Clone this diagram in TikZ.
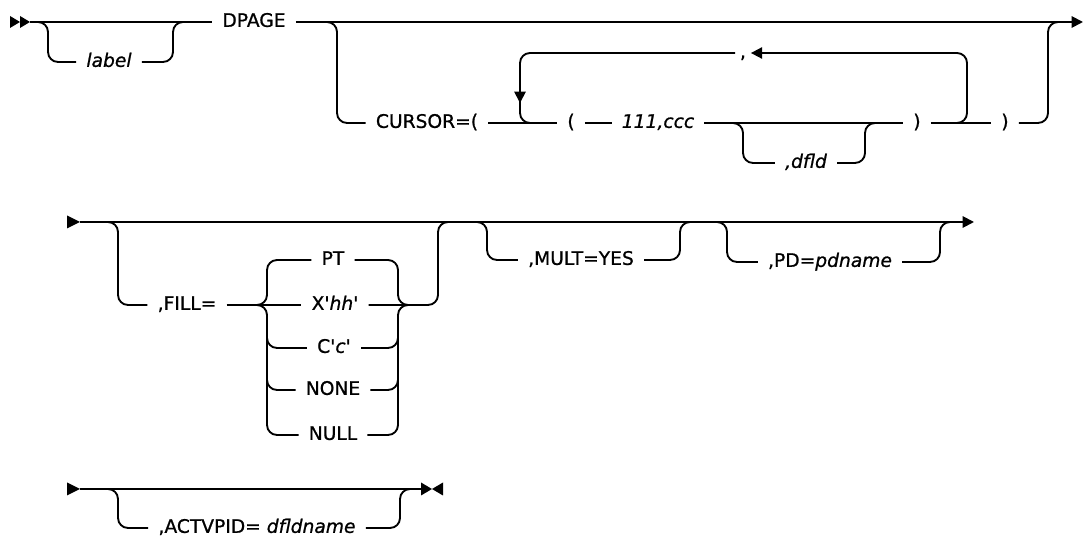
\documentclass[tikz,border=0pt]{standalone}
\usepackage{fontspec}
\setmainfont{DejaVu Sans}[FakeBold=0.9]
\usetikzlibrary{arrows.meta}
\newcommand{\sq}{\textquotesingle}

\begin{document}
\begin{tikzpicture}[
  x=0.75pt, y=-0.75pt, line width=1.4pt,
  kw/.style  ={inner xsep=7pt, inner ysep=0pt, text height=0.73em, text depth=0pt,
               font=\fontsize{14}{16}\selectfont},
  var/.style ={kw, font=\fontsize{14}{16}\selectfont\itshape},
  rail/.style={rounded corners=7.5pt},
  arr/.style ={-{Triangle[length=8.5pt,width=8.5pt]}},
]

\def\ya{22}\def\yb{222}\def\yc{489}
\useasboundingbox (0,0) rectangle (1083,538);

% ----- row 1: label, DPAGE, CURSOR --------------------------------------
\fill (10,\ya-6) -- (20,\ya) -- (10,\ya+6) -- cycle;
\fill (20,\ya-6) -- (30,\ya) -- (20,\ya+6) -- cycle;
\coordinate (s1) at (30,\ya);
\coordinate (e1) at (1083,\ya);
\node[kw]  (dpage) at (254,\ya) {DPAGE};
\node[var] (lbl)   at (109,62)  {label};
\draw (s1) -- (dpage.west);
\draw[arr] (dpage.east) -- (e1);
\draw[rail] (36,\ya) -- (48,\ya) -- (48,62) -- (lbl.west);
\draw[rail] (lbl.east) -- (173,62) -- (173,\ya) -- (185,\ya);

\node[kw]  (cur)  at (427,123) {CURSOR=(};
\node[kw]  (lp)   at (571,123) {(};
\node[var] (lc)   at (658,123) {111,ccc};
\node[var] (dfld) at (806,163) {,dfld};
\node[kw]  (rpa)  at (917,123) {)};
\node[kw]  (rpb)  at (1005,123) {)};
\draw[rail] (325,\ya) -- (337,\ya) -- (337,123) -- (cur.west);
\draw (cur.east) -- (lp.west);
\draw (lp.east) -- (lc.west);
\draw (lc.east) -- (rpa.west);
\draw[rail] (731,123) -- (743,123) -- (743,163) -- (dfld.west);
\draw[rail] (dfld.east) -- (865,163) -- (865,123) -- (877,123);
\draw (rpa.east) -- (rpb.west);
\draw[rail] (rpb.east) -- (1048,123) -- (1048,\ya) -- (1060,\ya);

% repeat loop with the separator
\node[kw,inner xsep=3pt] (comma) at (743,53) {,};
\draw[rail] (955,123) -- (967,123) -- (967,53) -- (800,53);
\draw[arr] (800,53) -- (comma.east);
\draw[rail] (comma.west) -- (520,53) -- (520,123) -- (532,123);
\draw[arr] (520,80) -- (520,103);

% ----- row 2: FILL, MULT, PD --------------------------------------------
\fill (67,\yb-6.5) -- (80,\yb) -- (67,\yb+6.5) -- cycle;
\coordinate (s2) at (80,\yb);
\coordinate (e2) at (974,\yb);
\draw[arr] (s2) -- (e2);

\node[kw] (fill) at (187,305) {,FILL=};
\node[kw] (pt)   at (333,260) {PT};
\node[kw] (xhh)  at (335,305) {X\sq\textit{hh}\sq};
\node[kw] (cc)   at (334,348) {C\sq\textit{c}\sq};
\node[kw] (none) at (333,390) {NONE};
\node[kw] (null) at (333,435) {NULL};
\draw[rail] (106,\yb) -- (118,\yb) -- (118,305) -- (fill.west);
\draw (fill.east) -- (xhh.west);
\draw[rail] (255,305) -- (267,305) -- (267,260) -- (pt.west);
\draw[rail] (255,305) -- (267,305) -- (267,435) -- (null.west);
\draw[rail] (267,320) -- (267,348) -- (cc.west);
\draw[rail] (267,365) -- (267,390) -- (none.west);
\draw[rail] (pt.east) -- (398,260) -- (398,305) -- (410,305);
\draw[rail] (null.east) -- (398,435) -- (398,305) -- (410,305);
\draw[rail] (cc.east) -- (398,348) -- (398,320);
\draw[rail] (none.east) -- (398,390) -- (398,365);
\draw[rail] (xhh.east) -- (438,305) -- (438,\yb) -- (450,\yb);

\node[kw] (mult) at (581,260) {,MULT=YES};
\draw[rail] (475,\yb) -- (487,\yb) -- (487,260) -- (mult.west);
\draw[rail] (mult.east) -- (680,260) -- (680,\yb) -- (692,\yb);

\node[kw] (pd) at (830,262) {,PD=\textit{pdname}};
\draw[rail] (715,\yb) -- (727,\yb) -- (727,262) -- (pd.west);
\draw[rail] (pd.east) -- (940,262) -- (940,\yb) -- (952,\yb);

% ----- row 3: ACTVPID ---------------------------------------------------
\fill (67,\yc-6.5) -- (80,\yc) -- (67,\yc+6.5) -- cycle;
\coordinate (s3) at (80,\yc);
\coordinate (e3) at (422,\yc);
\draw (s3) -- (e3);
\fill (421,\yc-6.5) -- (432,\yc) -- (421,\yc+6.5) -- cycle;
\fill (443,\yc-6.5) -- (432,\yc) -- (443,\yc+6.5) -- cycle;

\node[kw] (actv) at (257,528) {,ACTVPID= \textit{dfldname}};
\draw[rail] (106,\yc) -- (118,\yc) -- (118,528) -- (actv.west);
\draw[rail] (actv.east) -- (400,528) -- (400,\yc) -- (412,\yc);

\end{tikzpicture}
\end{document}
